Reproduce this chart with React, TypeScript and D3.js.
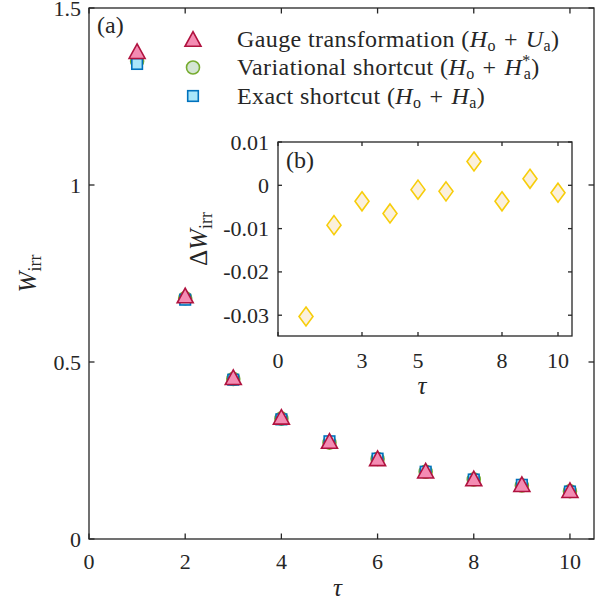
import React from "react";
import * as d3 from "d3";

const taus = [1, 2, 3, 4, 5, 6, 7, 8, 9, 10];
const gauge = [1.378, 0.688, 0.457, 0.345, 0.277, 0.228, 0.193, 0.171, 0.155, 0.138];
const variational = [1.35, 0.68, 0.452, 0.34, 0.272, 0.226, 0.19, 0.168, 0.151, 0.135];
const exact = [1.342, 0.676, 0.45, 0.338, 0.276, 0.227, 0.19, 0.168, 0.153, 0.134];
const deltaW = [-0.0303, -0.0092, -0.0037, -0.0065, -0.001, -0.0014, 0.0055, -0.0037, 0.0015, -0.0017];

const mainXTicks = [0, 2, 4, 6, 8, 10];
const mainYTicks = [0, 0.5, 1, 1.5];
const insetXTicks = [0, 3, 5, 8, 10];
const insetYTicks = [-0.03, -0.02, -0.01, 0, 0.01];

const FONT = "'Liberation Serif', 'DejaVu Serif', serif";
const AX = "#262626";

const triFill = "#f48cb3";
const triStroke = "#b0123f";
const cirFill = "#d4e5d4";
const cirStroke = "#77ac30";
const sqFill = "#a8e6fa";
const sqStroke = "#0072bd";
const diaFill = "#fbf0dc";
const diaStroke = "#f7cd0a";

function Tri({ x, y }: { x: number; y: number }) {
  const w = 8, h = 7.3;
  return <path d={`M${x},${y - h}L${x + w},${y + h}L${x - w},${y + h}Z`} fill={triFill} stroke={triStroke} strokeWidth={1.6} strokeLinejoin="miter" />;
}
function Cir({ x, y }: { x: number; y: number }) {
  return <circle cx={x} cy={y} r={6.5} fill={cirFill} stroke={cirStroke} strokeWidth={1.6} />;
}
function Sq({ x, y }: { x: number; y: number }) {
  return <rect x={x - 5.3} y={y - 5.3} width={10.6} height={10.6} fill={sqFill} stroke={sqStroke} strokeWidth={1.6} />;
}
function Dia({ x, y }: { x: number; y: number }) {
  const w = 7, h = 9.5;
  return <path d={`M${x},${y - h}L${x + w},${y}L${x},${y + h}L${x - w},${y}Z`} fill={diaFill} stroke={diaStroke} strokeWidth={1.6} />;
}

export default function App() {
  // main axes
  const x = d3.scaleLinear().domain([0, 10.5]).range([89, 594]);
  const y = d3.scaleLinear().domain([0, 1.5]).range([539, 8]);
  const [x0, x1] = x.range();
  const [y0, y1] = y.range();
  // inset axes
  const xi = d3.scaleLinear().domain([0, 10.5]).range([278, 572]);
  const yi = d3.scaleLinear().domain([-0.0348, 0.01]).range([336, 142]);
  const [xi0, xi1] = xi.range();
  const [yi0, yi1] = yi.range();
  const tl = 5.5;
  const fs = 22;
  const lfs = 24;

  const legend = [
    { M: Tri, label: "Gauge transformation (", B: "U", star: "" },
    { M: Cir, label: "Variational shortcut (", B: "H", star: "*" },
    { M: Sq, label: "Exact shortcut (", B: "H", star: "" },
  ];

  return (
    <svg width={601} height={606} style={{ position: "absolute", left: 0, top: 0, background: "#fff" }} fontFamily={FONT}>
      <rect width={601} height={606} fill="#fff" />
      {/* main box */}
      <rect x={x0} y={y1} width={x1 - x0} height={y0 - y1} fill="none" stroke={AX} strokeWidth={1.3} />
      {mainXTicks.map((t) => (
        <g key={"mx" + t}>
          <line x1={x(t)} x2={x(t)} y1={y0} y2={y0 - tl} stroke={AX} strokeWidth={1.3} />
          <line x1={x(t)} x2={x(t)} y1={y1} y2={y1 + tl} stroke={AX} strokeWidth={1.3} />
          <text x={x(t)} y={569} textAnchor="middle" fontSize={fs} fill={AX}>{t}</text>
        </g>
      ))}
      {mainYTicks.map((t) => (
        <g key={"my" + t}>
          <line x1={x0} x2={x0 + tl} y1={y(t)} y2={y(t)} stroke={AX} strokeWidth={1.3} />
          <line x1={x1} x2={x1 - tl} y1={y(t)} y2={y(t)} stroke={AX} strokeWidth={1.3} />
          <text x={81} y={y(t) + 7.5} textAnchor="end" fontSize={fs} fill={AX}>{t}</text>
        </g>
      ))}
      <text x={(x0 + x1) / 2 - 4} y={596} textAnchor="middle" fontSize={25} fontStyle="italic" fill={AX}>τ</text>
      <text transform={`translate(36,${(y0 + y1) / 2}) rotate(-90)`} textAnchor="middle" fontSize={25} fill={AX}>
        <tspan fontStyle="italic">W</tspan>
        <tspan fontSize={18} dy={5}>irr</tspan>
      </text>
      <text x={97} y={33} fontSize={24} fill={AX}>(a)</text>

      {/* main data */}
      {taus.map((t, i) => <Cir key={"c" + t} x={x(t)} y={y(variational[i])} />)}
      {taus.map((t, i) => <Sq key={"s" + t} x={x(t)} y={y(exact[i])} />)}
      {taus.map((t, i) => <Tri key={"t" + t} x={x(t)} y={y(gauge[i])} />)}

      {/* legend */}
      {legend.map((l, i) => {
        const ly = 39 + i * 28.5;
        const M = l.M;
        return (
          <g key={"l" + i}>
            <M x={193} y={ly} />
            <text x={237} y={ly + 7.5} fontSize={lfs} fill={AX} letterSpacing={0.4}>
              {l.label}
              <tspan fontStyle="italic">H</tspan>
              <tspan fontSize={16} dy={4}>o</tspan>
              <tspan dy={-4} dx={8}>+</tspan>
              <tspan dx={8} fontStyle="italic">{l.B}</tspan>
              {l.star ? (
                <>
                  <tspan fontSize={16} dy={-9}>{l.star}</tspan>
                  <tspan fontSize={16} dx={-7} dy={13}>a</tspan>
                  <tspan dy={-4}>)</tspan>
                </>
              ) : (
                <>
                  <tspan fontSize={16} dy={4}>a</tspan>
                  <tspan dy={-4}>)</tspan>
                </>
              )}
            </text>
          </g>
        );
      })}

      {/* inset */}
      <rect x={xi0} y={yi1} width={xi1 - xi0} height={yi0 - yi1} fill="#fff" stroke={AX} strokeWidth={1.3} />
      {insetXTicks.map((t) => (
        <g key={"ix" + t}>
          <line x1={xi(t)} x2={xi(t)} y1={yi0} y2={yi0 - 4} stroke={AX} strokeWidth={1.3} />
          <line x1={xi(t)} x2={xi(t)} y1={yi1} y2={yi1 + 4} stroke={AX} strokeWidth={1.3} />
          <text x={xi(t)} y={368} textAnchor="middle" fontSize={fs} fill={AX}>{t}</text>
        </g>
      ))}
      {insetYTicks.map((t) => (
        <g key={"iy" + t}>
          <line x1={xi0} x2={xi0 + 4} y1={yi(t)} y2={yi(t)} stroke={AX} strokeWidth={1.3} />
          <line x1={xi1} x2={xi1 - 4} y1={yi(t)} y2={yi(t)} stroke={AX} strokeWidth={1.3} />
          <text x={269} y={yi(t) + 7.5} textAnchor="end" fontSize={fs} fill={AX}>{t === 0 ? "0" : t.toFixed(2)}</text>
        </g>
      ))}
      <text x={(xi0 + xi1) / 2 - 3} y={394} textAnchor="middle" fontSize={25} fontStyle="italic" fill={AX}>τ</text>
      <text transform={`translate(207,${(yi0 + yi1) / 2}) rotate(-90)`} textAnchor="middle" fontSize={25} fill={AX}>
        <tspan>Δ</tspan>
        <tspan fontStyle="italic">W</tspan>
        <tspan fontSize={18} dy={5}>irr</tspan>
      </text>
      <text x={286} y={168} fontSize={24} fill={AX}>(b)</text>
      {taus.map((t, i) => <Dia key={"d" + t} x={xi(t)} y={yi(deltaW[i])} />)}
    </svg>
  );
}
